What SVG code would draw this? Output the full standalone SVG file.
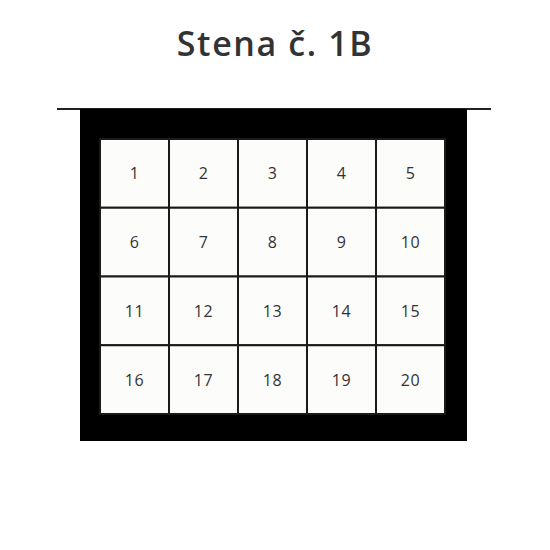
<svg xmlns="http://www.w3.org/2000/svg" width="550" height="550" viewBox="0 0 550 550">
<style>
.cell{fill:#fcfcfa;stroke:#1a1a1a;stroke-width:2}
.num{font-family:"Open Sans","Liberation Sans",sans-serif;font-size:16px;font-weight:500;letter-spacing:0.5px;fill:#333;text-anchor:middle;dominant-baseline:central}
.title{font-family:"Open Sans","Liberation Sans",sans-serif;font-size:34px;font-weight:600;letter-spacing:1.6px;fill:#333;text-anchor:middle}
</style>
<rect width="550" height="550" fill="#ffffff"/>
<text class="title" x="275" y="56">Stena č. 1B</text>
<g id="frame">
<line x1="57" y1="109" x2="491" y2="109" stroke="#222" stroke-width="2"/>
<rect x="80" y="109" width="387" height="332" fill="#000"/>
</g>
<g id="cells">
<g id="c1"><rect class="cell" x="100" y="139" width="69" height="68.75"/><text class="num" x="134.5" y="173.4">1</text></g>
<g id="c2"><rect class="cell" x="169" y="139" width="69" height="68.75"/><text class="num" x="203.5" y="173.4">2</text></g>
<g id="c3"><rect class="cell" x="238" y="139" width="69" height="68.75"/><text class="num" x="272.5" y="173.4">3</text></g>
<g id="c4"><rect class="cell" x="307" y="139" width="69" height="68.75"/><text class="num" x="341.5" y="173.4">4</text></g>
<g id="c5"><rect class="cell" x="376" y="139" width="69" height="68.75"/><text class="num" x="410.5" y="173.4">5</text></g>
<g id="c6"><rect class="cell" x="100" y="207.75" width="69" height="68.75"/><text class="num" x="134.5" y="242.1">6</text></g>
<g id="c7"><rect class="cell" x="169" y="207.75" width="69" height="68.75"/><text class="num" x="203.5" y="242.1">7</text></g>
<g id="c8"><rect class="cell" x="238" y="207.75" width="69" height="68.75"/><text class="num" x="272.5" y="242.1">8</text></g>
<g id="c9"><rect class="cell" x="307" y="207.75" width="69" height="68.75"/><text class="num" x="341.5" y="242.1">9</text></g>
<g id="c10"><rect class="cell" x="376" y="207.75" width="69" height="68.75"/><text class="num" x="410.5" y="242.1">10</text></g>
<g id="c11"><rect class="cell" x="100" y="276.5" width="69" height="68.75"/><text class="num" x="134.5" y="310.9">11</text></g>
<g id="c12"><rect class="cell" x="169" y="276.5" width="69" height="68.75"/><text class="num" x="203.5" y="310.9">12</text></g>
<g id="c13"><rect class="cell" x="238" y="276.5" width="69" height="68.75"/><text class="num" x="272.5" y="310.9">13</text></g>
<g id="c14"><rect class="cell" x="307" y="276.5" width="69" height="68.75"/><text class="num" x="341.5" y="310.9">14</text></g>
<g id="c15"><rect class="cell" x="376" y="276.5" width="69" height="68.75"/><text class="num" x="410.5" y="310.9">15</text></g>
<g id="c16"><rect class="cell" x="100" y="345.25" width="69" height="68.75"/><text class="num" x="134.5" y="379.6">16</text></g>
<g id="c17"><rect class="cell" x="169" y="345.25" width="69" height="68.75"/><text class="num" x="203.5" y="379.6">17</text></g>
<g id="c18"><rect class="cell" x="238" y="345.25" width="69" height="68.75"/><text class="num" x="272.5" y="379.6">18</text></g>
<g id="c19"><rect class="cell" x="307" y="345.25" width="69" height="68.75"/><text class="num" x="341.5" y="379.6">19</text></g>
<g id="c20"><rect class="cell" x="376" y="345.25" width="69" height="68.75"/><text class="num" x="410.5" y="379.6">20</text></g>
</g>
<g id="connectors"></g>
</svg>
